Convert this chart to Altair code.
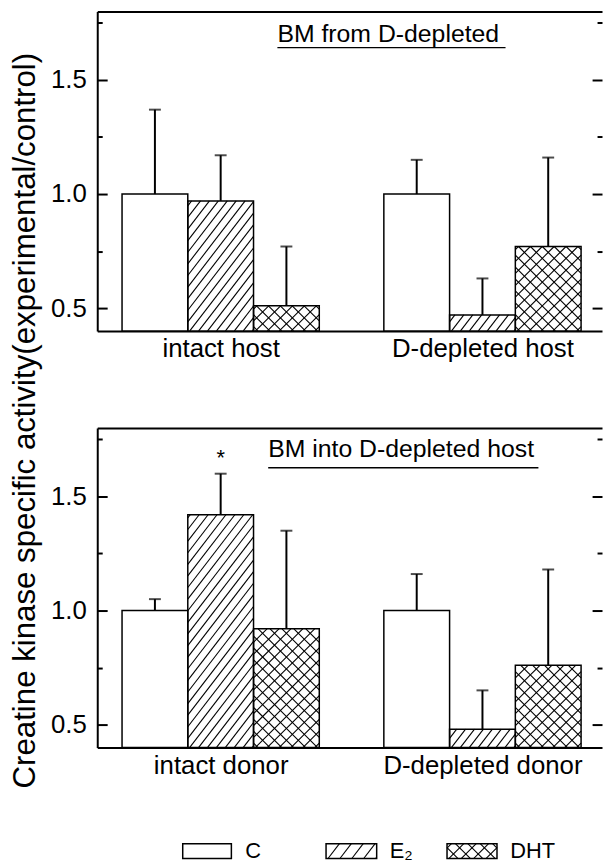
import altair as alt
import pandas as pd
import numpy as np

# ---------------- data ----------------
treatments = ["C", "E2", "DHT"]
legend_labels = ["C", "E₂", "DHT"]

top_groups = ["intact host", "D-depleted host"]
top_values = [[1.00, 0.97, 0.51], [1.00, 0.47, 0.77]]
top_errors = [[0.37, 0.20, 0.26], [0.15, 0.16, 0.39]]

bottom_groups = ["intact donor", "D-depleted donor"]
bottom_values = [[1.00, 1.42, 0.92], [1.00, 0.48, 0.76]]
bottom_errors = [[0.05, 0.18, 0.43], [0.16, 0.17, 0.42]]

y_label_values = [0.5, 1.0, 1.5]
y_tick_values = [0.5, 0.75, 1.0, 1.25, 1.5, 1.75]

top_title = "BM from D-depleted "
bottom_title = "BM into D-depleted host"
y_title = "Creatine kinase specific activity(experimental/control)"
star_text = "*"

# ---------------- layout / style ----------------
FONT = "Liberation Sans"
W, H = 509, 322
YMIN, YMAX = 0.4, 1.8
PX_Y = H / (YMAX - YMIN)
BAR_PX = 66.3
XMAX = W / BAR_PX
PX_X = BAR_PX
GROUP_START = [25 / BAR_PX, 289 / BAR_PX]
PATTERN = {"C": None, "E2": ("single", 9.0, 1.3), "DHT": ("cross", 12.0, 1.0)}
LEGEND_PATTERN = {"C": None, "E2": ("single", 12.0, 1.3), "DHT": ("cross", 12.5, 1.0)}

xscale = alt.Scale(domain=[0, XMAX], nice=False, zero=False)
yscale = alt.Scale(domain=[YMIN, YMAX], nice=False, zero=False)

tick_cond = {"condition": {"test": "datum.value % 0.5 === 0", "value": 10}, "value": 5}


def hatch(xl, xr, yb, yt, spacing, slope, flip):
    w = (xr - xl) * PX_X
    h = (yt - yb) * PX_Y
    out = []
    if h <= 0:
        return out
    run = h / slope
    kmin = int(np.ceil(-run / spacing))
    kmax = int(np.floor(w / spacing))
    for k in range(kmin, kmax + 1):
        c = k * spacing + 2.0
        X1 = max(c, 0.0)
        X2 = min(c + run, w)
        if X2 - X1 < 0.4:
            continue
        Y1 = slope * (X1 - c)
        Y2 = slope * (X2 - c)
        if flip:
            X1, X2 = w - X1, w - X2
        out.append({"hx": xl + X1 / PX_X, "hx2": xl + X2 / PX_X,
                    "hy": yb + Y1 / PX_Y, "hy2": yb + Y2 / PX_Y})
    return out


def hatch_for(rects):
    rows = []
    for r in rects:
        p = r["pat"]
        if p is None:
            continue
        kind, sp, sl = p
        rows += hatch(r["x0"], r["x1"], r["ybot"], r["ytop"], sp, sl, False)
        if kind == "cross":
            rows += hatch(r["x0"], r["x1"], r["ybot"], r["ytop"], sp, sl, True)
    return pd.DataFrame(rows)


def panel(groups, values, errors, title_text, tx, ty, ul_y, ul_x2,
          show_title=False, star=None, legend=None):
    rects = []
    bars = []
    for gi, g in enumerate(groups):
        for ti, t in enumerate(treatments):
            x0 = GROUP_START[gi] + ti
            v = values[gi][ti]
            rects.append({"x0": x0, "x1": x0 + 1, "ybot": YMIN, "ytop": v, "pat": PATTERN[t]})
            bars.append({"xc": x0 + 0.5, "val": v, "top": v + errors[gi][ti]})
    legend_text = []
    if legend is not None:
        ly0, ly1, boxes, txs = legend
        for i, t in enumerate(treatments):
            rects.append({"x0": boxes[i][0], "x1": boxes[i][1], "ybot": ly0, "ytop": ly1,
                          "pat": LEGEND_PATTERN[t]})
            legend_text.append({"x": txs[i], "y": ly0, "label": legend_labels[i]})
    rdf = pd.DataFrame([{k: v for k, v in r.items() if k != "pat"} for r in rects])
    hdf = hatch_for(rects)
    bdf = pd.DataFrame(bars)

    centers = [GROUP_START[0] + 1.5, GROUP_START[1] + 1.5]
    split = (centers[0] + centers[1]) / 2
    label_expr = f"datum.value < {split} ? '{groups[0]}' : '{groups[1]}'"

    yaxis_labels = alt.Axis(orient="left", values=y_label_values, format=".1f",
                            ticks=False, tickSize=0, domain=True, domainColor="black",
                            domainWidth=2, labelFontSize=26, labelFont=FONT,
                            labelColor="black", labelPadding=11, grid=False,
                            title=y_title if show_title else None,
                            titleFont=FONT, titleFontSize=31.5, titleFontWeight="normal",
                            titleColor="black", titlePadding=9, titleY=-8)
    xaxis_labels = alt.Axis(orient="bottom", values=centers, labelExpr=label_expr,
                            ticks=False, tickSize=0, domain=True, domainColor="black",
                            domainWidth=2, labelFontSize=26, labelFont=FONT,
                            labelColor="black", labelPadding=5, labelLimit=400,
                            labelOverlap=False, grid=False, title=None)

    fill_layer = alt.Chart(rdf).mark_rect(fill="white", stroke=None).encode(
        x=alt.X("x0:Q", scale=xscale, axis=xaxis_labels),
        x2="x1:Q",
        y=alt.Y("ytop:Q", scale=yscale, axis=yaxis_labels),
        y2="ybot:Q",
    )
    hatch_layer = alt.Chart(hdf).mark_rule(color="black", strokeWidth=1.1).encode(
        x=alt.X("hx:Q", scale=xscale,
                axis=alt.Axis(orient="top", labels=False, ticks=False, domain=True,
                              domainColor="black", domainWidth=2, grid=False, title=None)),
        x2="hx2:Q",
        y=alt.Y("hy:Q", scale=yscale,
                axis=alt.Axis(orient="right", offset=-W, values=y_tick_values, labels=False,
                              domain=False, ticks=True, tickColor="black", tickWidth=2,
                              tickSize=tick_cond, grid=False, title=None)),
        y2="hy2:Q",
    )
    outline_layer = alt.Chart(rdf).mark_rect(fillOpacity=0, stroke="black", strokeWidth=1.5).encode(
        x=alt.X("x0:Q", scale=xscale, axis=None),
        x2="x1:Q",
        y=alt.Y("ytop:Q", scale=yscale, axis=None),
        y2="ybot:Q",
    )
    err_layer = alt.Chart(bdf).mark_rule(color="black", strokeWidth=2).encode(
        x=alt.X("xc:Q", scale=xscale, axis=None),
        y=alt.Y("val:Q", scale=yscale,
                axis=alt.Axis(orient="left", offset=-W, values=y_tick_values, labels=False,
                              domain=False, ticks=True, tickColor="black", tickWidth=2,
                              tickSize=tick_cond, grid=False, title=None)),
        y2="top:Q",
    )
    cap_layer = alt.Chart(bdf).mark_tick(orient="horizontal", size=12, thickness=2,
                                         color="black").encode(
        x=alt.X("xc:Q", scale=xscale, axis=None),
        y=alt.Y("top:Q", scale=yscale, axis=None),
    )
    tdf = pd.DataFrame([{"x": tx, "y": ty, "label": title_text}])
    title_layer = alt.Chart(tdf).mark_text(align="left", baseline="alphabetic", font=FONT,
                                           fontSize=25, color="black").encode(
        x=alt.X("x:Q", scale=xscale, axis=None),
        y=alt.Y("y:Q", scale=yscale, axis=None),
        text="label:N",
    )
    udf = pd.DataFrame([{"x": tx, "x2": ul_x2, "y": ul_y}])
    ul_layer = alt.Chart(udf).mark_rule(color="black", strokeWidth=1.3).encode(
        x=alt.X("x:Q", scale=xscale, axis=None),
        x2="x2:Q",
        y=alt.Y("y:Q", scale=yscale, axis=None),
    )
    layers = [fill_layer, hatch_layer, outline_layer, err_layer, cap_layer, title_layer, ul_layer]
    if star is not None:
        sdf = pd.DataFrame([{"x": star[0], "y": star[1], "label": star_text}])
        layers.append(alt.Chart(sdf).mark_text(align="center", baseline="alphabetic", font=FONT,
                                               fontSize=22, color="black").encode(
            x=alt.X("x:Q", scale=xscale, axis=None),
            y=alt.Y("y:Q", scale=yscale, axis=None),
            text="label:N",
        ))
    if legend_text:
        ldf = pd.DataFrame(legend_text)
        layers.append(alt.Chart(ldf).mark_text(align="left", baseline="alphabetic", font=FONT,
                                               fontSize=22, color="black").encode(
            x=alt.X("x:Q", scale=xscale, axis=None),
            y=alt.Y("y:Q", scale=yscale, axis=None),
            text="label:N",
        ))
    return alt.layer(*layers).resolve_axis(x="independent", y="independent").properties(
        width=W, height=H)


top = panel(top_groups, top_values, top_errors, top_title,
            tx=2.74, ty=1.668, ul_y=1.642, ul_x2=6.21)
bottom = panel(bottom_groups, bottom_values, bottom_errors, bottom_title,
               tx=2.60, ty=1.675, ul_y=1.626, ul_x2=6.71,
               show_title=True, star=(GROUP_START[0] + 1.5, 1.64),
               legend=(-0.087, -0.022,
                       [(1.30, 2.04), (3.48, 4.25), (5.32, 6.08)],
                       [2.25, 4.45, 6.28]))

chart = alt.vconcat(top, bottom, spacing=98, bounds="flush").properties(
    padding={"left": 1, "top": 0, "right": 0, "bottom": 0}
).configure_view(stroke=None)

chart.save("out.html", embed_options={"renderer": "svg", "actions": False})
